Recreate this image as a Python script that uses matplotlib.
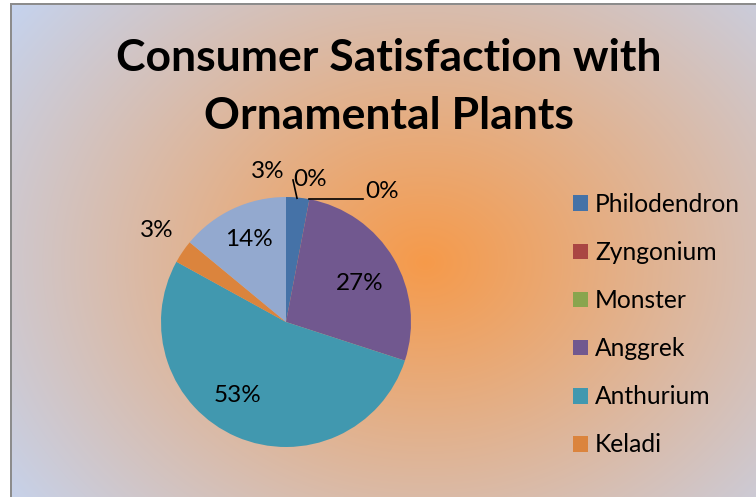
import numpy as np
import matplotlib
matplotlib.use("Agg")
import matplotlib.pyplot as plt
from matplotlib.patches import Patch

# ---- data ----
categories = ["Philodendron", "Zyngonium", "Monster", "Anggrek", "Anthurium", "Keladi", "Other"]
values = [3, 0, 0, 27, 53, 3, 14]
colors = ["#4572A7", "#AA4643", "#89A54E", "#71588F", "#4198AF", "#DB843D", "#93A9CF"]
legend_count = 6
title = "Consumer Satisfaction with\nOrnamental Plants"

# ---- layout ----
W, H = 756, 497
label_pos = [(-0.15, 1.20), (0.19, 1.14), (0.77, 1.04), (0.59, 0.31),
             (-0.39, -0.59), (-1.03, 0.73), (-0.30, 0.66)]
leaders = {1: [(0.056, 1.136), (0.088, 0.99)],
           2: [(0.184, 0.984), (0.616, 0.984)]}

plt.rcParams['font.family'] = ['Lato', 'DejaVu Sans']
fig = plt.figure(figsize=(W / 100, H / 100), dpi=100)

# background radial gradient
yy, xx = np.mgrid[0:H, 0:W]
cx, cy, rx, ry = 425.0, 262.0, 520.0, 420.0
t = np.clip(np.sqrt(((xx - cx) / rx) ** 2 + ((yy - cy) / ry) ** 2), 0, 1)[..., None]
c0 = np.array([246, 154, 74]) / 255.0
c1 = np.array([197, 211, 238]) / 255.0
img = c0 * (1 - t) + c1 * t
img[:, :10] = 1.0
img[:3, :] = 1.0
img[3:5, 10:] = np.array([140, 140, 140]) / 255.0
img[3:, 10:12] = np.array([140, 140, 140]) / 255.0
bg = fig.add_axes([0, 0, 1, 1])
bg.imshow(img, extent=(0, W, H, 0), interpolation="none", aspect="auto")
bg.set_xlim(0, W)
bg.set_ylim(H, 0)
bg.axis("off")

# title
fig.text(389 / W, 1 - 87 / H, title, ha="center", va="center",
         fontsize=32, fontweight="bold", linespacing=1.55)

# pie
pcx, pcy, pr = 286, 322, 125
ax = fig.add_axes([(pcx - pr) / W, (H - pcy - pr) / H, 2 * pr / W, 2 * pr / H])
ax.pie(values, colors=colors, startangle=90, counterclock=False, radius=1,
       wedgeprops=dict(linewidth=0))
ax.set_xlim(-1, 1)
ax.set_ylim(-1, 1)
ax.set_aspect("equal")
ax.axis("off")
for i, v in enumerate(values):
    x, y = label_pos[i]
    ax.text(x, y, f"{v:.0f}%", ha="center", va="center", fontsize=17.5,
            color="black", clip_on=False)
for i, pts in leaders.items():
    ax.plot([pts[0][0], pts[1][0]], [pts[0][1], pts[1][1]], color="black",
            lw=1.2, clip_on=False)

# legend
handles = [Patch(facecolor=colors[i], edgecolor="none") for i in range(legend_count)]
fig.legend(handles, categories[:legend_count], loc="upper left",
           bbox_to_anchor=(573 / W, 1 - 193 / H), frameon=False,
           fontsize=17.7, handlelength=0.61, handleheight=0.61,
           handletextpad=0.28, labelspacing=1.02, borderpad=0, borderaxespad=0)

fig.savefig("out.png", dpi=100)
